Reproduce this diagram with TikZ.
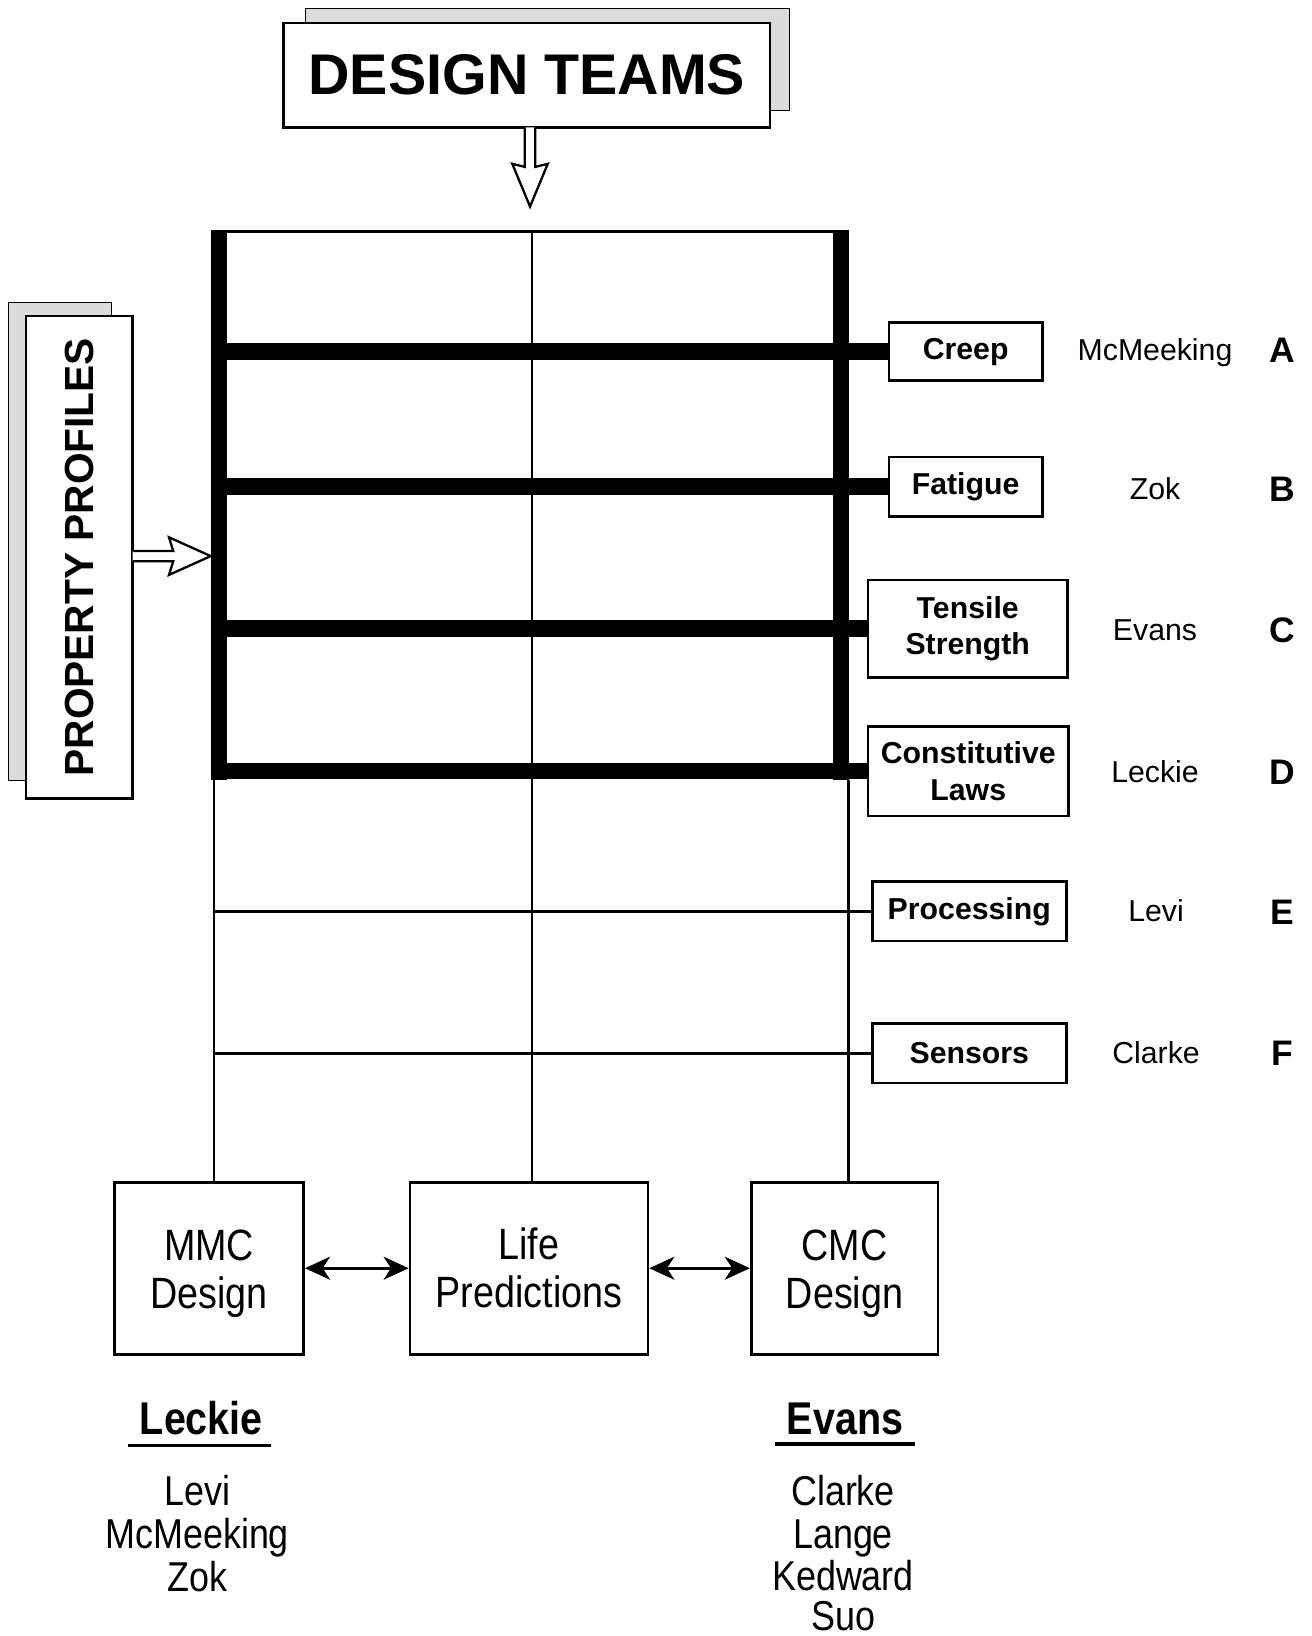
\documentclass[tikz,border=0pt]{standalone}
\usepackage{fontspec}
\setmainfont{Liberation Sans}
\newfontfamily\narrowf[FakeStretch=0.86]{Liberation Sans}
\usetikzlibrary{arrows.meta}
\begin{document}
\begin{tikzpicture}[x=1pt,y=-1pt,
  box/.style={draw,line width=2.6pt,fill=white,inner sep=0pt,align=center},
  sbox/.style={box,font=\fontsize{29}{35}\selectfont\bfseries},
  shadowbox/.style={draw,line width=1.2pt,fill=gray!28},
  thickln/.style={line width=16pt},
  thinln/.style={line width=2.4pt},
  hollow/.style={line width=2.2pt,fill=white,line join=miter},
  nm/.style={font=\fontsize{29}{35}\selectfont,anchor=mid},
  lt/.style={font=\fontsize{34}{35}\selectfont\bfseries,anchor=mid},
  big/.style={box,font=\narrowf\fontsize{42}{46}\selectfont},
  team/.style={font=\narrowf\fontsize{40}{42}\selectfont,anchor=mid},
  teamhead/.style={font=\narrowf\fontsize{44}{46}\selectfont\bfseries,anchor=mid},
  dbl/.style={line width=3pt,{Stealth[length=24pt,width=22pt,inset=7pt]}-{Stealth[length=24pt,width=22pt,inset=7pt]}}
]
\useasboundingbox (0,0) rectangle (1257,1568);

% ---- header boxes
\node[shadowbox,minimum width=464pt,minimum height=98pt] (dtback) at (525,57) {};
\node[box,minimum width=466pt,minimum height=100pt,font=\fontsize{55}{60}\selectfont\bfseries] (dt) at (505,72) {\raisebox{-3pt}{DESIGN TEAMS}};

\node[shadowbox,minimum width=99pt,minimum height=458pt] (ppback) at (57.5,519) {};
\node[box,rotate=90,minimum width=462pt,minimum height=102pt,font=\fontsize{39}{42}\selectfont\bfseries] (pp) at (76,534) {PROPERTY PROFILES};

% ---- property boxes
\node[sbox,minimum width=147pt,minimum height=56pt] (creep) at (925.5,337) {\raisebox{-2pt}{Creep}};
\node[sbox,minimum width=147pt,minimum height=57pt] (fatigue) at (925.5,466.5) {\raisebox{-2pt}{Fatigue}};
\node[sbox,minimum width=191pt,minimum height=93pt] (tensile) at (927.5,602.5) {Tensile\\Strength};
\node[sbox,minimum width=192pt,minimum height=86pt] (const) at (928,739) {Constitutive\\Laws};
\node[sbox,minimum width=186pt,minimum height=57pt] (proc) at (929,873.5) {\raisebox{-2pt}{Processing}};
\node[sbox,minimum width=186pt,minimum height=57pt] (sens) at (929,1009.5) {\raisebox{-2pt}{Sensors}};

% ---- bottom boxes
\node[big,minimum width=181pt,minimum height=165pt] (mmc) at (200.5,1215.5) {\rule{0pt}{39pt}MMC\\Design};
\node[big,minimum width=228pt,minimum height=165pt] (life) at (507,1215.5) {Life\\Predictions};
\node[big,minimum width=179pt,minimum height=165pt] (cmc) at (809.5,1215.5) {\rule{0pt}{39pt}CMC\\Design};

% ---- grid
\coordinate (gtl) at (202,222);
\coordinate (gtr) at (814,222);
\coordinate (glt) at (210,222);
\coordinate (glb) at (210,748);
\coordinate (grt) at (806,222);
\coordinate (grb) at (806,748);
\coordinate (gmt) at (510,222);
\coordinate (lc) at (205,748);
\coordinate (rc) at (813,748);

\draw[thinln] (gtl) -- (gtr);
\draw[thinln] (gmt) -- (gmt |- life.north);
\draw[thinln] (lc) -- (lc |- mmc.north);
\draw[thinln] (rc) -- (rc |- cmc.north);
\draw[thinln] (proc.west) -- (proc.west -| lc);
\draw[thinln] (sens.west) -- (sens.west -| lc);
\draw[thickln] (glt) -- (glb);
\draw[thickln] (grt) -- (grb);
\draw[thickln] (creep.west) -- (creep.west -| glt);
\draw[thickln] (fatigue.west) -- (fatigue.west -| glt);
\draw[thickln] (tensile.west) -- (tensile.west -| glt);
\draw[thickln] (const.west) -- (const.west -| glt);

% ---- hollow arrows
\draw[hollow] (503,122) -- (503,160) -- (491,157) -- (508,198) -- (525,157) -- (513,160) -- (513,122);
\draw[hollow] (127,528) -- (166,528) -- (162,515) -- (202,533) -- (162,551) -- (166,538) -- (127,538);

% ---- double arrows
\draw[dbl] (mmc.east) -- (life.west);
\draw[dbl] (life.east) -- (cmc.west);

% ---- names and letters
\node[nm] (nA) at (1107,343) {McMeeking};
\node[nm] (nB) at (1107,476) {Zok};
\node[nm] (nC) at (1107,611) {Evans};
\node[nm] (nD) at (1107,747) {Leckie};
\node[nm] (nE) at (1108,881) {Levi};
\node[nm] (nF) at (1108,1017) {Clarke};
\node[lt] (lA) at (1229,345) {A};
\node[lt] (lB) at (1229,478) {B};
\node[lt] (lC) at (1229,613) {C};
\node[lt] (lD) at (1229,749) {D};
\node[lt] (lE) at (1229,883) {E};
\node[lt] (lF) at (1229,1019) {F};

% ---- teams
\node[teamhead] (th1) at (193,1372) {Leckie};
\draw[line width=3pt] (123,1385) -- (260,1385);
\node[team] (t11) at (189,1440) {Levi};
\node[team] (t12) at (189,1481) {McMeeking};
\node[team] (t13) at (189,1523) {Zok};

\node[teamhead] (th2) at (810,1372) {Evans};
\draw[line width=3pt] (743,1384) -- (877,1384);
\node[team] (t21) at (808,1440) {Clarke};
\node[team] (t22) at (808,1481) {Lange};
\node[team] (t23) at (808,1522) {Kedward};
\node[team] (t24) at (808,1560) {Suo};
\end{tikzpicture}
\end{document}
